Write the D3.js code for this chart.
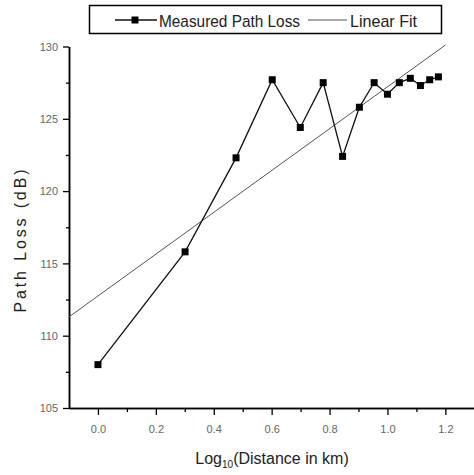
<!DOCTYPE html>
<html>
<head>
<meta charset="utf-8">
<script src="https://cdn.jsdelivr.net/npm/d3@7"></script>
<style>
  body { margin: 0; background: #fff; }
  svg { display: block; font-family: "Liberation Sans", Arial, sans-serif; }
</style>
</head>
<body>
<svg id="chart" width="474" height="475"></svg>
<script>
// measured points (x = log10 of distance in km)
var logDistance = [0, 0.301, 0.477, 0.602, 0.699, 0.778, 0.845, 0.903, 0.954, 1.0, 1.041, 1.079, 1.114, 1.146, 1.176];
var pathLoss = [108.0, 115.8, 122.3, 127.7, 124.4, 127.5, 122.4, 125.8, 127.5, 126.7, 127.5, 127.8, 127.3, 127.7, 127.9];

// linear fit end points
var fitX = [-0.1, 1.2];
var fitY = [111.3, 130.1];

var xMajor = [0.0, 0.2, 0.4, 0.6, 0.8, 1.0, 1.2];
var xMinor = [0.1, 0.3, 0.5, 0.7, 0.9, 1.1];
var yMajor = [105, 110, 115, 120, 125, 130];
var yMinor = [107.5, 112.5, 117.5, 122.5, 127.5];

var legendNames = ["Measured Path Loss", "Linear Fit"];

var svg = d3.select("#chart");

var x = d3.scaleLinear().domain([-0.1, 1.3]).range([69, 474.3]);
var y = d3.scaleLinear().domain([105, 130]).range([408, 46.5]);

var measured = logDistance.map(function(d, i) { return { x: d, y: pathLoss[i] }; });
var fit = fitX.map(function(d, i) { return { x: d, y: fitY[i] }; });

var line = d3.line()
    .x(function(d) { return x(d.x); })
    .y(function(d) { return y(d.y); });

// axes
var gx = svg.append("g").attr("transform", "translate(0," + y(105) + ")");
gx.call(d3.axisBottom(x).tickValues(xMajor).tickSize(7).tickSizeOuter(0).tickFormat(d3.format(".1f")));
gx.append("g").call(d3.axisBottom(x).tickValues(xMinor).tickSize(4).tickSizeOuter(0).tickFormat(""));

var gy = svg.append("g").attr("transform", "translate(" + x(-0.1) + ",0)");
gy.call(d3.axisLeft(y).tickValues(yMajor).tickSize(6).tickSizeOuter(0));
gy.append("g").call(d3.axisLeft(y).tickValues(yMinor).tickSize(3).tickSizeOuter(0).tickFormat(""));

svg.selectAll(".domain").attr("stroke", "#000").attr("stroke-width", 1.5);
svg.selectAll(".tick line").attr("stroke", "#000").attr("stroke-width", 1.3);
svg.selectAll(".tick text")
    .attr("fill", "#666")
    .attr("font-size", 11)
    .attr("font-family", "Liberation Sans, Arial, sans-serif");
gx.selectAll(".tick text").attr("dy", "1.35em");
gy.selectAll(".tick text").attr("x", -11).attr("dy", "0.35em");

// fit line
svg.append("path")
    .datum(fit)
    .attr("d", line)
    .attr("fill", "none")
    .attr("stroke", "#555")
    .attr("stroke-width", 1);

// measured line + markers
svg.append("path")
    .datum(measured)
    .attr("d", line)
    .attr("fill", "none")
    .attr("stroke", "#111")
    .attr("stroke-width", 1.3);

svg.selectAll("rect.pt")
    .data(measured)
  .enter().append("rect")
    .attr("class", "pt")
    .attr("x", function(d) { return x(d.x) - 3.5; })
    .attr("y", function(d) { return y(d.y) - 3.5; })
    .attr("width", 7)
    .attr("height", 7)
    .attr("fill", "#000");

// axis titles
var xt = svg.append("text")
    .attr("x", 272)
    .attr("y", 464)
    .attr("text-anchor", "middle")
    .attr("font-size", 16)
    .attr("fill", "#222");
xt.append("tspan").text("Log");
xt.append("tspan").attr("font-size", 10).attr("dy", 4).text("10");
xt.append("tspan").attr("dy", -4).text("(Distance in km)");

svg.append("text")
    .attr("transform", "translate(26,241) rotate(-90)")
    .attr("text-anchor", "middle")
    .attr("font-size", 16)
    .attr("textLength", 143)
    .attr("fill", "#222")
    .text("Path Loss (dB)");

// legend
var lg = svg.append("g");
lg.append("rect")
    .attr("x", 89.5).attr("y", 5.5)
    .attr("width", 352).attr("height", 28)
    .attr("fill", "#fff")
    .attr("stroke", "#000")
    .attr("stroke-width", 1.5);
lg.append("line").attr("x1", 115).attr("x2", 157).attr("y1", 20).attr("y2", 20)
    .attr("stroke", "#111").attr("stroke-width", 1.3);
lg.append("rect").attr("x", 131.5).attr("y", 16.5).attr("width", 7).attr("height", 7).attr("fill", "#000");
lg.append("text").attr("x", 159).attr("y", 26.5).attr("font-size", 17).attr("fill", "#222")
    .attr("textLength", 141).attr("lengthAdjust", "spacingAndGlyphs").text(legendNames[0]);
lg.append("line").attr("x1", 308).attr("x2", 347).attr("y1", 20).attr("y2", 20)
    .attr("stroke", "#555").attr("stroke-width", 1);
lg.append("text").attr("x", 350).attr("y", 26.5).attr("font-size", 17).attr("fill", "#222")
    .attr("textLength", 67).attr("lengthAdjust", "spacingAndGlyphs").text(legendNames[1]);
</script>
</body>
</html>
